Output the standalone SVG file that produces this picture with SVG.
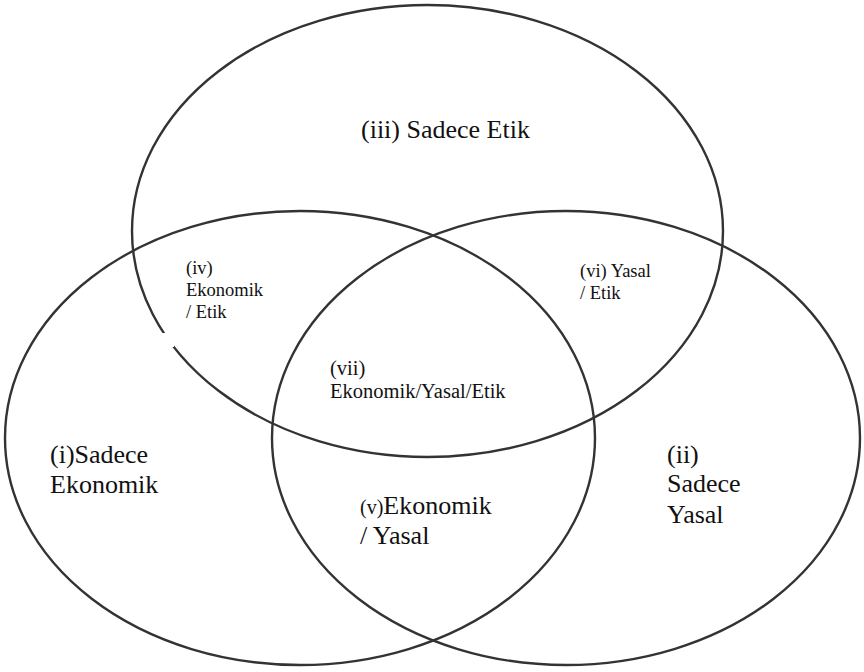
<svg xmlns="http://www.w3.org/2000/svg" width="864" height="672" viewBox="0 0 864 672">
  <style>
    .set { fill: none; stroke: #333; stroke-width: 2.4; }
    .lbl { font-family: "Liberation Serif", "Times New Roman", "DejaVu Serif", serif; fill: #111; }
    .big { font-size: 26px; }
    .mid { font-size: 20.5px; }
    .sm { font-size: 18.5px; }
  </style>
  <rect width="864" height="672" fill="#fff"/>

  <!-- three overlapping sets -->
  <g id="connectors"></g>
  <g id="etik">
    <ellipse class="set" cx="427.5" cy="231" rx="295.5" ry="226"/>
  </g>
  <g id="ekonomik">
    <ellipse class="set" cx="300" cy="438" rx="295" ry="227"/>
  </g>
  <g id="yasal">
    <ellipse class="set" cx="566" cy="438" rx="294" ry="227"/>
  </g>
  <!-- small break in the Etik outline -->
  <rect x="150" y="333" width="24" height="14" fill="#fff"/>

  <!-- region labels -->
  <g id="r3">
    <text class="lbl big" x="361" y="138">(iii) Sadece Etik</text>
  </g>
  <g id="r4">
    <text class="lbl sm" x="186" y="274">(iv)</text>
    <text class="lbl sm" x="186" y="296">Ekonomik</text>
    <text class="lbl sm" x="186" y="318">/ Etik</text>
  </g>
  <g id="r6">
    <text class="lbl sm" x="580" y="277">(vi) Yasal</text>
    <text class="lbl sm" x="580" y="299">/ Etik</text>
  </g>
  <g id="r7">
    <text class="lbl mid" x="330" y="375">(vii)</text>
    <text class="lbl mid" x="330" y="398">Ekonomik/Yasal/Etik</text>
  </g>
  <g id="r1">
    <text class="lbl big" x="50" y="463">(i)Sadece</text>
    <text class="lbl big" x="50" y="493">Ekonomik</text>
  </g>
  <g id="r5">
    <text class="lbl big" x="360" y="514"><tspan font-size="20px">(v)</tspan>Ekonomik</text>
    <text class="lbl big" x="360" y="544">/ Yasal</text>
  </g>
  <g id="r2">
    <text class="lbl big" x="667" y="463">(ii)</text>
    <text class="lbl big" x="667" y="492">Sadece</text>
    <text class="lbl big" x="667" y="523">Yasal</text>
  </g>
</svg>
